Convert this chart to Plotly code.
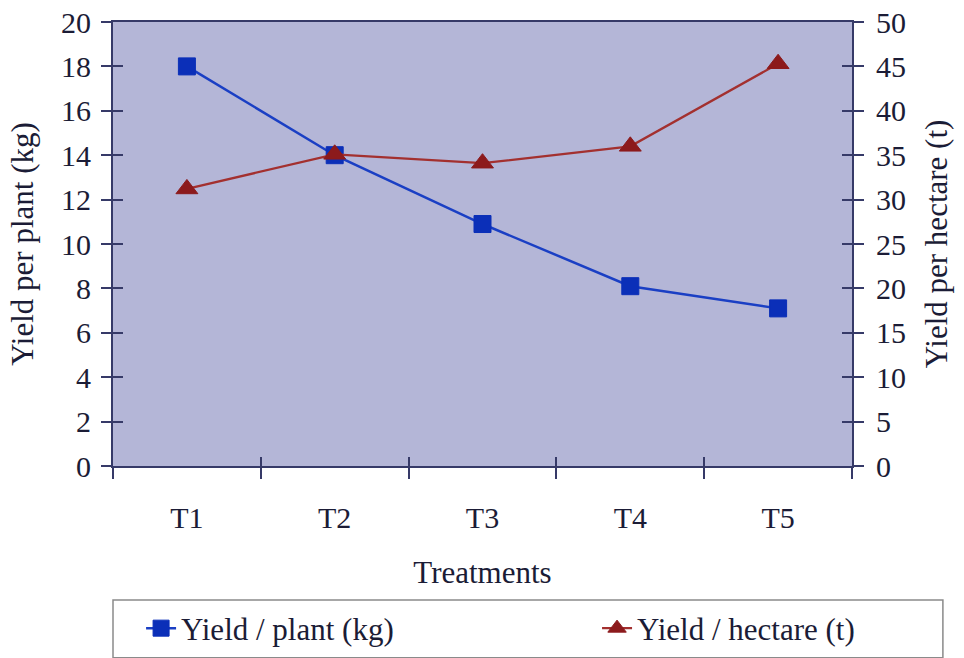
import plotly.graph_objects as go

# Yield data per treatment
treatments = ["T1", "T2", "T3", "T4", "T5"]
yield_per_plant = [18.0, 14.0, 10.9, 8.1, 7.1]          # kg, left axis
yield_per_hectare = [31.2, 35.1, 34.1, 36.0, 45.3]      # t, right axis

left_ticks = list(range(0, 21, 2))
right_ticks = list(range(0, 51, 5))

FONT = "Liberation Serif"
INK = "#1b1c36"
FRAME = "#363a68"
BG = "#b4b6d7"

fig = go.Figure()

fig.add_trace(go.Scatter(
    x=treatments, y=yield_per_plant, name="Yield / plant (kg)",
    mode="lines+markers",
    line=dict(color="#1a3fc4", width=2.5),
    marker=dict(symbol="square", size=17, color="#0b2fb8",
                line=dict(color="#0b2fb8", width=1)),
    yaxis="y", legend="legend",
))
fig.add_trace(go.Scatter(
    x=treatments, y=yield_per_hectare, name="Yield / hectare (t)",
    mode="lines+markers",
    line=dict(color="#a3302f", width=2.2),
    marker=dict(symbol="triangle-up", size=19, color="#8c1a1c",
                line=dict(color="#8c1a1c", width=1)),
    yaxis="y2", legend="legend2",
))
# empty traces so the inner tick axes get drawn
fig.add_trace(go.Scatter(x=treatments, y=[None] * 5, xaxis="x2", yaxis="y3",
                         showlegend=False, hoverinfo="skip"))
fig.add_trace(go.Scatter(x=treatments, y=[None] * 5, xaxis="x2", yaxis="y4",
                         showlegend=False, hoverinfo="skip"))

tickfont = dict(family=FONT, size=30, color=INK)
titlefont = dict(family=FONT, size=31, color=INK)
legendfont = dict(family=FONT, size=31, color=INK)

fig.update_layout(
    width=964, height=658,
    margin=dict(l=113, r=112, t=22, b=192, autoexpand=False),
    paper_bgcolor="white",
    plot_bgcolor=BG,
    showlegend=True,
    xaxis=dict(
        type="category", range=[-0.5, 4.5],
        tickson="boundaries", ticks="outside", ticklen=11, tickwidth=1.5,
        tickcolor=FRAME, showline=True, linecolor=FRAME, linewidth=2,
        mirror=True, showgrid=False, zeroline=False,
        tickfont=tickfont, ticklabelstandoff=24,
        title=dict(text="Treatments", font=titlefont, standoff=28),
    ),
    xaxis2=dict(
        type="category", range=[-0.5, 4.5], overlaying="x",
        tickson="boundaries", ticks="inside", ticklen=9, tickwidth=1.5,
        tickcolor=FRAME, showticklabels=False, showline=False,
        showgrid=False, zeroline=False,
    ),
    yaxis=dict(
        range=[0, 20], tickvals=left_ticks, ticks="outside", ticklen=10,
        tickwidth=1.5, tickcolor=FRAME, showline=True, linecolor=FRAME,
        linewidth=2, showgrid=False, zeroline=False, tickfont=tickfont,
        ticklabelstandoff=4,
        title=dict(text="Yield per plant (kg)", font=titlefont, standoff=18),
    ),
    yaxis2=dict(
        range=[0, 50], tickvals=right_ticks, overlaying="y", side="right",
        ticks="outside", ticklen=10, tickwidth=1.5, tickcolor=FRAME,
        showline=True, linecolor=FRAME, linewidth=2, showgrid=False,
        zeroline=False, tickfont=tickfont, ticklabelstandoff=6,
        title=dict(text="Yield per hectare (t)", font=titlefont, standoff=20),
    ),
    yaxis3=dict(
        range=[0, 20], tickvals=left_ticks, overlaying="y", side="left",
        anchor="x2", ticks="inside", ticklen=10, tickwidth=1.5,
        tickcolor=FRAME, showticklabels=False, showline=False,
        showgrid=False, zeroline=False,
    ),
    yaxis4=dict(
        range=[0, 50], tickvals=right_ticks, overlaying="y", side="right",
        anchor="x2", ticks="inside", ticklen=10, tickwidth=1.5,
        tickcolor=FRAME, showticklabels=False, showline=False,
        showgrid=False, zeroline=False,
    ),
    legend=dict(
        orientation="h", x=0.038, y=-0.366, xanchor="left", yanchor="middle",
        font=legendfont, bgcolor="rgba(0,0,0,0)", borderwidth=0,
    ),
    legend2=dict(
        orientation="h", x=0.655, y=-0.366, xanchor="left", yanchor="middle",
        font=legendfont, bgcolor="rgba(0,0,0,0)", borderwidth=0,
    ),
    shapes=[dict(
        type="rect", xref="paper", yref="paper",
        x0=0.0, x1=1.123, y0=-0.302, y1=-0.432,
        line=dict(color="#8a8a8a", width=1.5), fillcolor="rgba(0,0,0,0)",
        layer="below",
    )],
)

fig.write_html("out.html")
